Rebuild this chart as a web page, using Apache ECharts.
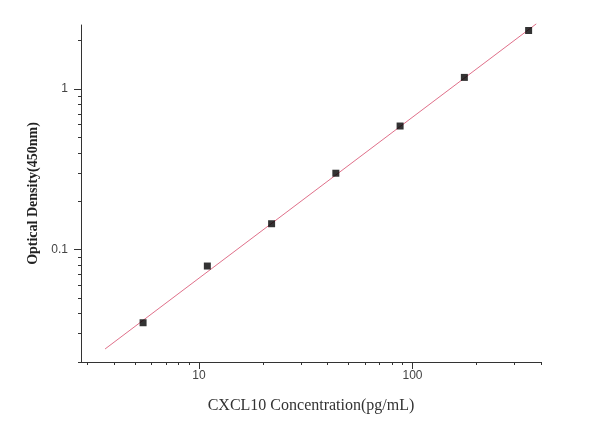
<!DOCTYPE html>
<html>
<head>
<meta charset="utf-8">
<script src="https://cdn.jsdelivr.net/npm/echarts@6/dist/echarts.min.js"></script>
<style>html,body{margin:0;padding:0;background:#fff;}#c{width:600px;height:426px;}</style>
</head>
<body>
<div id="c"></div>
<script>
// Standard points (concentration pg/mL, OD 450nm)
var concentrations = [5.47, 10.94, 21.88, 43.75, 87.5, 175, 350];
var odValues = [0.0351, 0.0791, 0.145, 0.299, 0.588, 1.18, 2.31];
// Fitted line, read at its two visible ends
var fitX = [3.63, 380];
var fitY = [0.0241, 2.54];
// Axis ranges and ticks
var xRange = [2.8, 400];
var yRange = [0.02, 2.5];
var xMajorTicks = [10, 100];
var xMinorTicks = [3, 4, 5, 6, 7, 8, 9, 20, 30, 40, 50, 60, 70, 80, 90, 200, 300, 400];
var yMajorTicks = [0.1, 1];
var yMinorTicks = [0.02, 0.03, 0.04, 0.05, 0.06, 0.07, 0.08, 0.09, 0.2, 0.3, 0.4, 0.5, 0.6, 0.7, 0.8, 0.9, 2];
var xTitle = 'CXCL10 Concentration(pg/mL)';
var yTitle = 'Optical Density(450nm)';

var pts = concentrations.map(function (c, i) { return [c, odValues[i]]; });
var fit = fitX.map(function (x, i) { return [x, fitY[i]]; });

var chart = echarts.init(document.getElementById('c'), null, {renderer: 'canvas'});
var lineStyle = {color: '#333', width: 1};
chart.setOption({
  animation: false,
  backgroundColor: '#fff',
  grid: {left: 81, right: 59, top: 25, bottom: 64},
  xAxis: [{
    type: 'log', logBase: 10, min: xRange[0], max: xRange[1], position: 'bottom',
    name: xTitle, nameLocation: 'middle', nameGap: 36,
    nameTextStyle: {fontFamily: 'Liberation Serif', fontSize: 16, color: '#333'},
    axisLine: {show: true, onZero: false, lineStyle: lineStyle},
    axisTick: {show: true, length: 7, lineStyle: lineStyle, customValues: xMajorTicks},
    axisLabel: {show: true, customValues: xMajorTicks, margin: 8, fontFamily: 'Liberation Sans', fontSize: 12, color: '#444'},
    splitLine: {show: false}, minorTick: {show: false}
  }, {
    type: 'log', logBase: 10, min: xRange[0], max: xRange[1], position: 'bottom', offset: 0,
    axisLine: {show: false},
    axisTick: {show: true, length: 3, lineStyle: lineStyle, customValues: xMinorTicks},
    axisLabel: {show: false},
    splitLine: {show: false}
  }],
  yAxis: [{
    type: 'log', logBase: 10, min: yRange[0], max: yRange[1], position: 'left',
    name: yTitle, nameLocation: 'middle', nameGap: 40,
    nameTextStyle: {fontFamily: 'Liberation Serif', fontSize: 14, fontWeight: 'bold', color: '#222'},
    axisLine: {show: true, onZero: false, lineStyle: lineStyle},
    axisTick: {show: true, length: 7, lineStyle: lineStyle, customValues: yMajorTicks},
    axisLabel: {show: true, customValues: yMajorTicks, margin: 13, fontFamily: 'Liberation Sans', fontSize: 12, color: '#444'},
    splitLine: {show: false}, minorTick: {show: false}
  }, {
    type: 'log', logBase: 10, min: yRange[0], max: yRange[1], position: 'left', offset: 0,
    axisLine: {show: false},
    axisTick: {show: true, length: 3, lineStyle: lineStyle, customValues: yMinorTicks},
    axisLabel: {show: false},
    splitLine: {show: false}
  }],
  series: [{
    type: 'line', data: fit, xAxisIndex: 0, yAxisIndex: 0,
    showSymbol: false, symbol: 'none', clip: false,
    lineStyle: {color: '#e0708a', width: 1}, z: 2
  }, {
    type: 'scatter', data: pts, xAxisIndex: 0, yAxisIndex: 0,
    symbol: 'rect', symbolSize: 7,
    itemStyle: {color: '#000'}, z: 3
  }]
});
</script>
</body>
</html>
